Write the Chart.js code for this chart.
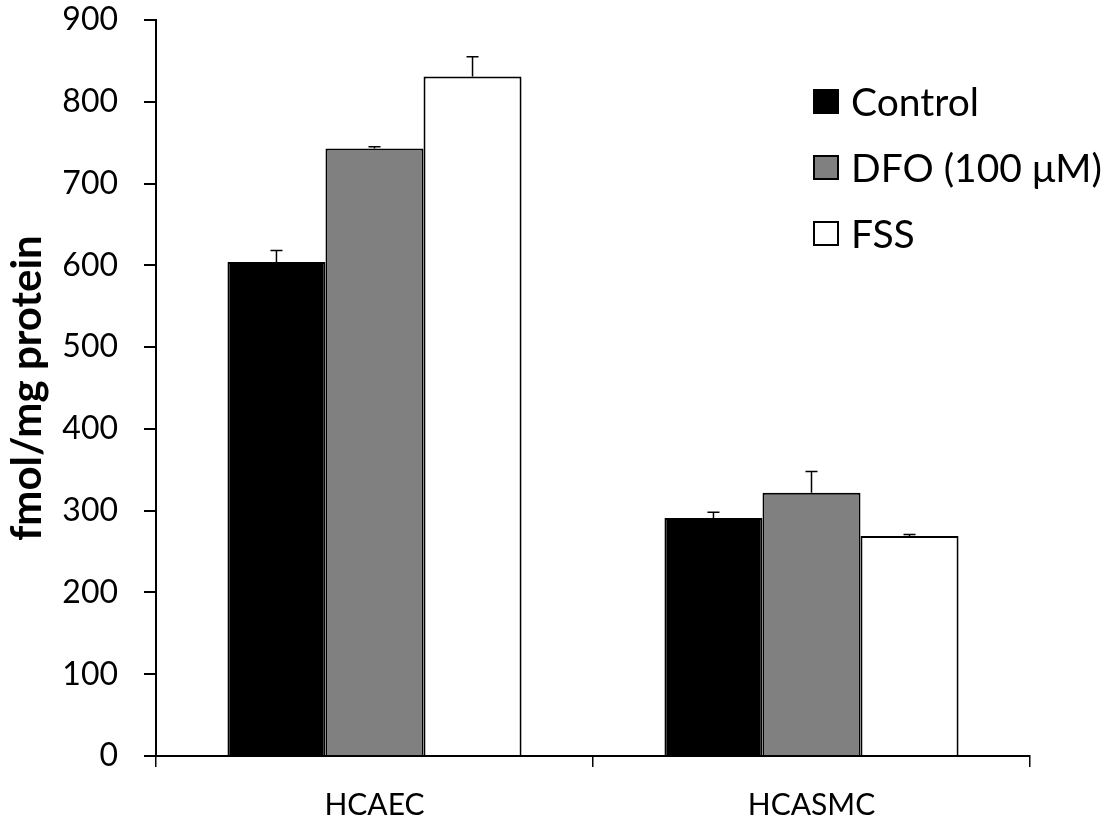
<!DOCTYPE html>
<html>
<head>
<meta charset="utf-8">
<style>
  body { margin: 0; background: #fff; }
  #wrap { position: relative; width: 1103px; height: 823px; }
  #legend { position: absolute; left: 813px; top: 68px; font-family: Lato, "Open Sans", sans-serif; font-size: 39px; color: #000; }
  .row { display: flex; align-items: center; height: 66px; }
  .box { width: 26px; height: 25px; border: 2px solid #000; margin-right: 12px; box-sizing: border-box; }
</style>
</head>
<body>
<div id="wrap">
  <canvas id="chart" width="1103" height="823"></canvas>
  <div id="legend"></div>
</div>
<script src="https://cdn.jsdelivr.net/npm/chart.js"></script>
<script>
  const categories = ["HCAEC", "HCASMC"];
  const seriesNames = ["Control", "DFO (100 μM)", "FSS"];
  const seriesColors = ["#000000", "#808080", "#ffffff"];
  const controlValues = [604, 291];
  const dfoValues = [743, 322];
  const fssValues = [831, 269];
  const controlErrors = [14, 7];
  const dfoErrors = [2, 26];
  const fssErrors = [24, 2];
  const yTicks = [0, 100, 200, 300, 400, 500, 600, 700, 800, 900];

  const values = [controlValues, dfoValues, fssValues];
  const errors = [controlErrors, dfoErrors, fssErrors];

  // error bars (upper only)
  const errorBars = {
    id: "errorBars",
    afterDatasetsDraw(chart) {
      const ctx = chart.ctx;
      const y = chart.scales.y;
      ctx.save();
      ctx.strokeStyle = "#000";
      ctx.lineWidth = 1.5;
      chart.data.datasets.forEach((ds, i) => {
        chart.getDatasetMeta(i).data.forEach((bar, j) => {
          const top = y.getPixelForValue(ds.data[j]);
          const end = y.getPixelForValue(ds.data[j] + errors[i][j]);
          ctx.beginPath();
          ctx.moveTo(bar.x, top);
          ctx.lineTo(bar.x, end);
          ctx.moveTo(bar.x - 6, end);
          ctx.lineTo(bar.x + 6, end);
          ctx.stroke();
        });
      });
      ctx.restore();
    },
  };

  new Chart(document.getElementById("chart").getContext("2d"), {
    type: "bar",
    data: {
      labels: categories,
      datasets: seriesNames.map((name, i) => ({
        label: name,
        data: values[i],
        backgroundColor: seriesColors[i],
        borderColor: "#000",
        borderWidth: 2,
        categoryPercentage: 0.673,
        barPercentage: 1.0,
      })),
    },
    options: {
      responsive: false,
      animation: false,
      layout: { padding: { top: 20, right: 73, left: 0, bottom: 0 } },
      plugins: { legend: { display: false }, tooltip: { enabled: false } },
      scales: {
        x: {
          afterFit(scale) { scale.height = 67; scale.paddingLeft = 0; scale.paddingRight = 0; },
          border: { color: "#000", width: 2 },
          grid: { offset: true, drawOnChartArea: false, color: "#000", lineWidth: 1.5, tickLength: 11 },
          ticks: { color: "#000", padding: 20, font: { family: "Lato", size: 30 } },
        },
        y: {
          min: 0,
          max: 900,
          afterFit(scale) { scale.width = 156; scale.paddingTop = 0; scale.paddingBottom = 0; },
          afterBuildTicks(scale) { scale.ticks = yTicks.map(v => ({ value: v })); },
          border: { color: "#000", width: 2 },
          grid: { drawOnChartArea: false, color: "#000", lineWidth: 2, tickLength: 12 },
          ticks: { color: "#000", padding: 26, font: { family: "Lato", size: 32 } },
          title: { display: true, text: "fmol/mg protein", color: "#000", padding: { top: 2, bottom: 0 },
                   font: { family: "Lato", size: 42, weight: "bold" } },
        },
      },
    },
    plugins: [errorBars],
  });

  // legend
  const legend = document.getElementById("legend");
  seriesNames.forEach((name, i) => {
    const row = document.createElement("div");
    row.className = "row";
    const box = document.createElement("span");
    box.className = "box";
    box.style.background = seriesColors[i];
    const label = document.createElement("span");
    label.textContent = name;
    row.appendChild(box);
    row.appendChild(label);
    legend.appendChild(row);
  });
</script>
</body>
</html>
